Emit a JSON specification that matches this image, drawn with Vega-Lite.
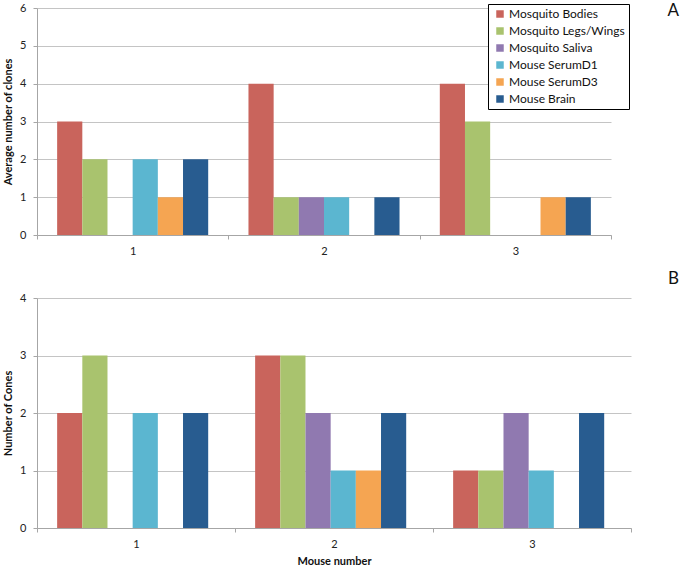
{
  "$schema": "https://vega.github.io/schema/vega-lite/v6.json",
  "padding": {"top": 2, "left": 2, "right": 2, "bottom": 2},
  "background": "white",
  "spacing": 14,
  "config": {
    "font": "Lato",
    "view": {"stroke": null},
    "axis": {
      "labelFont": "Lato", "labelFontSize": 11, "labelColor": "#222222",
      "titleFont": "Lato", "titleFontSize": 11, "titleFontWeight": "bold", "titleColor": "#111111",
      "domainColor": "#A6A6A6", "tickColor": "#A6A6A6", "gridColor": "#C4C4C4", "tickSize": 4
    }
  },
  "datasets": {
    "a": [
      {"mouse": "1", "sample": "Mosquito Bodies", "clones": 3},
      {"mouse": "1", "sample": "Mosquito Legs/Wings", "clones": 2},
      {"mouse": "1", "sample": "Mosquito Saliva", "clones": 0},
      {"mouse": "1", "sample": "Mouse SerumD1", "clones": 2},
      {"mouse": "1", "sample": "Mouse SerumD3", "clones": 1},
      {"mouse": "1", "sample": "Mouse Brain", "clones": 2},
      {"mouse": "2", "sample": "Mosquito Bodies", "clones": 4},
      {"mouse": "2", "sample": "Mosquito Legs/Wings", "clones": 1},
      {"mouse": "2", "sample": "Mosquito Saliva", "clones": 1},
      {"mouse": "2", "sample": "Mouse SerumD1", "clones": 1},
      {"mouse": "2", "sample": "Mouse SerumD3", "clones": 0},
      {"mouse": "2", "sample": "Mouse Brain", "clones": 1},
      {"mouse": "3", "sample": "Mosquito Bodies", "clones": 4},
      {"mouse": "3", "sample": "Mosquito Legs/Wings", "clones": 3},
      {"mouse": "3", "sample": "Mosquito Saliva", "clones": 0},
      {"mouse": "3", "sample": "Mouse SerumD1", "clones": 0},
      {"mouse": "3", "sample": "Mouse SerumD3", "clones": 1},
      {"mouse": "3", "sample": "Mouse Brain", "clones": 1}
    ],
    "b": [
      {"mouse": "1", "sample": "Mosquito Bodies", "clones": 2},
      {"mouse": "1", "sample": "Mosquito Legs/Wings", "clones": 3},
      {"mouse": "1", "sample": "Mosquito Saliva", "clones": 0},
      {"mouse": "1", "sample": "Mouse SerumD1", "clones": 2},
      {"mouse": "1", "sample": "Mouse SerumD3", "clones": 0},
      {"mouse": "1", "sample": "Mouse Brain", "clones": 2},
      {"mouse": "2", "sample": "Mosquito Bodies", "clones": 3},
      {"mouse": "2", "sample": "Mosquito Legs/Wings", "clones": 3},
      {"mouse": "2", "sample": "Mosquito Saliva", "clones": 2},
      {"mouse": "2", "sample": "Mouse SerumD1", "clones": 1},
      {"mouse": "2", "sample": "Mouse SerumD3", "clones": 1},
      {"mouse": "2", "sample": "Mouse Brain", "clones": 2},
      {"mouse": "3", "sample": "Mosquito Bodies", "clones": 1},
      {"mouse": "3", "sample": "Mosquito Legs/Wings", "clones": 1},
      {"mouse": "3", "sample": "Mosquito Saliva", "clones": 2},
      {"mouse": "3", "sample": "Mouse SerumD1", "clones": 1},
      {"mouse": "3", "sample": "Mouse SerumD3", "clones": 0},
      {"mouse": "3", "sample": "Mouse Brain", "clones": 2}
    ]
  },
  "resolve": {"legend": {"color": "independent"}, "scale": {"color": "shared"}},
  "vconcat": [
    {
      "width": 574,
      "height": 227,
      "title": {"text": "A", "anchor": "end", "orient": "top", "frame": "group", "offset": 0, "dx": 68, "dy": 26, "baseline": "middle", "fontSize": 17, "fontWeight": "normal", "font": "Lato", "color": "#111111"},
      "data": {"name": "a"},
      "mark": {"type": "bar"},
      "encoding": {
        "x": {"field": "mouse", "type": "nominal", "title": null,
              "scale": {"paddingInner": 0, "paddingOuter": 0},
              "axis": {"labelAngle": 0, "tickBand": "extent", "labelPadding": 6, "grid": false}},
        "xOffset": {"field": "sample", "type": "nominal",
              "sort": ["Mosquito Bodies", "Mosquito Legs/Wings", "Mosquito Saliva", "Mouse SerumD1", "Mouse SerumD3", "Mouse Brain"],
              "scale": {"paddingInner": 0, "paddingOuter": 0.8}},
        "y": {"field": "clones", "type": "quantitative", "title": "Average number of clones",
              "scale": {"domain": [0, 6], "nice": false},
              "axis": {"values": [0, 1, 2, 3, 4, 5, 6], "grid": true, "labelPadding": 7, "titlePadding": 6}},
        "color": {"field": "sample", "type": "nominal",
              "sort": ["Mosquito Bodies", "Mosquito Legs/Wings", "Mosquito Saliva", "Mouse SerumD1", "Mouse SerumD3", "Mouse Brain"],
              "scale": {"domain": ["Mosquito Bodies", "Mosquito Legs/Wings", "Mosquito Saliva", "Mouse SerumD1", "Mouse SerumD3", "Mouse Brain"],
                        "range": ["#C9645C", "#A9C36E", "#9079B0", "#5BB6D0", "#F5A552", "#285C90"]},
              "legend": {"title": null, "orient": "none", "legendX": 451, "legendY": -4,
                         "symbolType": "square", "symbolSize": 56, "symbolStrokeWidth": 0,
                         "labelFont": "Lato", "labelFontSize": 12, "labelColor": "#111111",
                         "rowPadding": 5, "padding": 4, "symbolOffset": 2,
                         "strokeColor": "#000000", "fillColor": "#FFFFFF", "labelOffset": 3}}
      }
    },
    {
      "width": 594,
      "height": 230,
      "title": {"text": "B", "anchor": "end", "orient": "top", "frame": "group", "offset": 0, "dx": 48, "dy": 4, "baseline": "middle", "fontSize": 17, "fontWeight": "normal", "font": "Lato", "color": "#111111"},
      "data": {"name": "b"},
      "mark": {"type": "bar"},
      "encoding": {
        "x": {"field": "mouse", "type": "nominal", "title": "Mouse number",
              "scale": {"paddingInner": 0, "paddingOuter": 0},
              "axis": {"labelAngle": 0, "tickBand": "extent", "labelPadding": 6, "grid": false, "titlePadding": 6}},
        "xOffset": {"field": "sample", "type": "nominal",
              "sort": ["Mosquito Bodies", "Mosquito Legs/Wings", "Mosquito Saliva", "Mouse SerumD1", "Mouse SerumD3", "Mouse Brain"],
              "scale": {"paddingInner": 0, "paddingOuter": 0.75}},
        "y": {"field": "clones", "type": "quantitative", "title": "Number of Cones",
              "scale": {"domain": [0, 4], "nice": false},
              "axis": {"values": [0, 1, 2, 3, 4], "grid": true, "labelPadding": 7, "titlePadding": 6}},
        "color": {"field": "sample", "type": "nominal",
              "sort": ["Mosquito Bodies", "Mosquito Legs/Wings", "Mosquito Saliva", "Mouse SerumD1", "Mouse SerumD3", "Mouse Brain"],
              "legend": null}
      }
    }
  ]
}
